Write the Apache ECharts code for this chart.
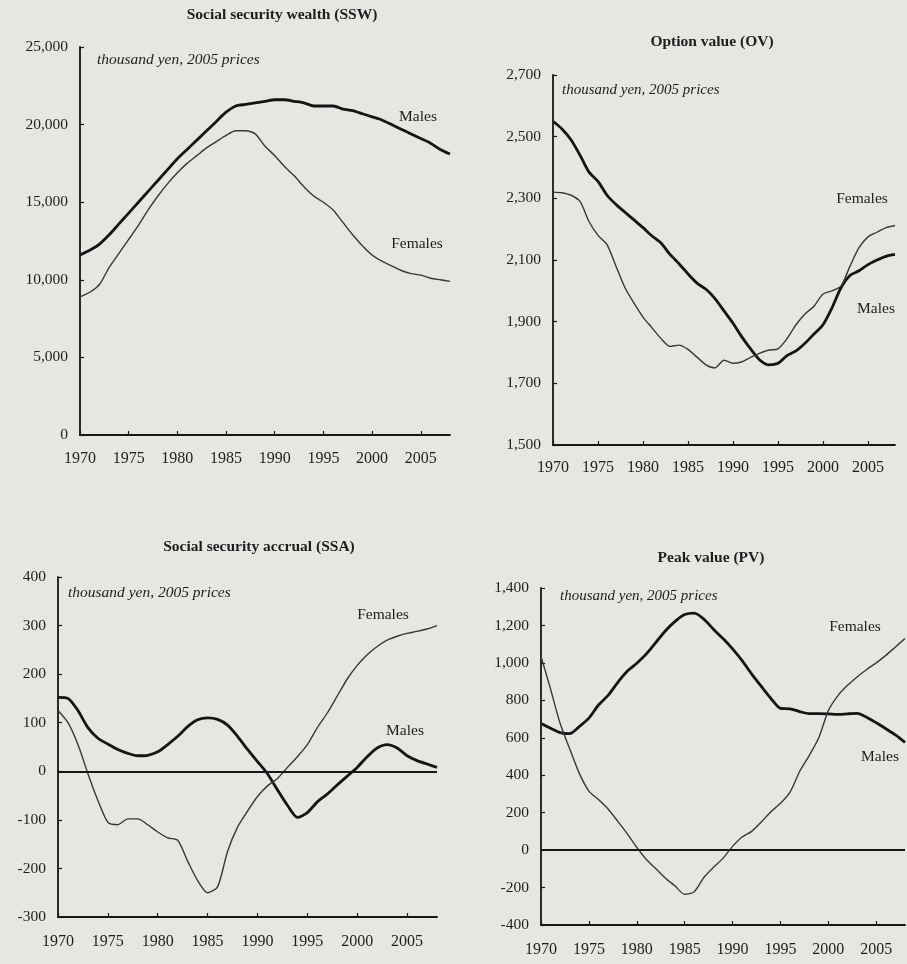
<!DOCTYPE html>
<html>
<head>
<meta charset="utf-8">
<script src="https://cdn.jsdelivr.net/npm/echarts@6/dist/echarts.min.js"></script>
<style>
  html, body { margin: 0; padding: 0; background: #e6e6e2; }
  #chart { width: 907px; height: 964px; }
</style>
</head>
<body>
<div id="chart"></div>
<script>
// Years covered by every panel
const years = [1970, 1971, 1972, 1973, 1974, 1975, 1976, 1977, 1978, 1979,
               1980, 1981, 1982, 1983, 1984, 1985, 1986, 1987, 1988, 1989,
               1990, 1991, 1992, 1993, 1994, 1995, 1996, 1997, 1998, 1999,
               2000, 2001, 2002, 2003, 2004, 2005, 2006, 2007, 2008];
const yearTicks = [1970, 1975, 1980, 1985, 1990, 1995, 2000, 2005];

// Social security wealth (thousand yen, 2005 prices)
const sswMales = [11600, 11900, 12300, 12900, 13600, 14300, 15000, 15700, 16400, 17100,
                  17800, 18400, 19000, 19600, 20200, 20800, 21200, 21300, 21400, 21500,
                  21600, 21600, 21500, 21400, 21200, 21200, 21200, 21000, 20900, 20700,
                  20500, 20300, 20000, 19700, 19400, 19100, 18800, 18400, 18100];
const sswFemales = [8900, 9200, 9700, 10800, 11700, 12600, 13500, 14500, 15400, 16200,
                    16900, 17500, 18000, 18500, 18900, 19300, 19600, 19600, 19400, 18600,
                    18000, 17300, 16700, 16000, 15400, 15000, 14500, 13700, 12900, 12200,
                    11600, 11200, 10900, 10600, 10400, 10300, 10100, 10000, 9900];

// Option value
const ovMales = [2550, 2525, 2490, 2440, 2385, 2355, 2310, 2280, 2255, 2230,
                 2205, 2178, 2155, 2118, 2088, 2055, 2025, 2005, 1975, 1935,
                 1895, 1850, 1810, 1775, 1760, 1765, 1790, 1805, 1830, 1860,
                 1890, 1945, 2010, 2050, 2065, 2085, 2100, 2112, 2118];
const ovFemales = [2320, 2318, 2310, 2290, 2225, 2180, 2150, 2080, 2010, 1960,
                   1915, 1880, 1845, 1820, 1824, 1810, 1785, 1760, 1750, 1775,
                   1765, 1770, 1785, 1798, 1808, 1812, 1845, 1890, 1925, 1950,
                   1990, 2000, 2015, 2080, 2140, 2175, 2190, 2205, 2212];

// Social security accrual
const ssaMales = [152, 150, 125, 90, 68, 56, 45, 37, 32, 33,
                  40, 55, 72, 92, 106, 110, 107, 95, 72, 45,
                  20, -5, -38, -70, -95, -85, -63, -47, -28, -10,
                  8, 30, 48, 55, 48, 32, 22, 15, 8];
const ssaFemales = [125, 100, 55, -5, -60, -105, -110, -98, -98, -110,
                    -125, -137, -142, -185, -225, -250, -238, -165, -115, -82,
                    -52, -30, -15, 8, 30, 55, 90, 120, 155, 190,
                    218, 240, 257, 270, 278, 284, 288, 293, 300];

// Peak value
const pvMales = [676, 651, 628, 622, 660, 705, 775, 826, 895, 955,
                 998, 1048, 1110, 1172, 1222, 1258, 1266, 1234, 1180, 1130,
                 1075, 1012, 940, 874, 810, 757, 755, 740, 729, 729,
                 728, 725, 728, 730, 710, 680, 648, 615, 575];
const pvFemales = [1035, 860, 676, 540, 410, 315, 270, 220, 155, 88,
                   15, -50, -100, -150, -192, -236, -222, -146, -92, -44,
                   20, 70, 100, 150, 205, 250, 310, 420, 505, 600,
                   745, 825, 880, 925, 965, 1000, 1040, 1085, 1130];

const FONT = '"Liberation Serif", "DejaVu Serif", serif';
const INK = '#161616';
const LABEL_INK = '#1e1e1e';

const pair = arr => years.map((y, i) => [y, arr[i]]);
const thousands = v => Number(v).toLocaleString('en-US');

const grids = [
  { left: 80,  top: 47,  width: 370, height: 388 },
  { left: 553, top: 75,  width: 342, height: 370 },
  { left: 58,  top: 577, width: 379, height: 340 },
  { left: 541, top: 588, width: 364, height: 337 }
];
const xLabelMargins = [16, 15, 17, 17];

const yRanges = [
  { min: 0,    max: 25000, interval: 5000 },
  { min: 1500, max: 2700,  interval: 200 },
  { min: -300, max: 400,   interval: 100 },
  { min: -400, max: 1400,  interval: 200 }
];

const xAxes = grids.map((g, i) => ({
  type: 'value', gridIndex: i, min: 1970, max: 2008,
  axisLine: { show: true, onZero: false, lineStyle: { color: INK, width: 1.8 } },
  axisTick: { show: true, inside: true, length: 4, customValues: yearTicks,
              lineStyle: { color: INK, width: 1.2 } },
  axisLabel: { customValues: yearTicks, formatter: v => String(v), margin: xLabelMargins[i],
               fontFamily: FONT, fontSize: 16, color: LABEL_INK },
  splitLine: { show: false }
}));

const yAxes = yRanges.map((r, i) => ({
  type: 'value', gridIndex: i, min: r.min, max: r.max, interval: r.interval,
  axisLine: { show: true, onZero: false, lineStyle: { color: INK, width: 1.8 } },
  axisTick: { show: true, inside: true, length: 4, lineStyle: { color: INK, width: 1.2 } },
  axisLabel: { formatter: thousands, margin: 12, fontFamily: FONT, fontSize: 15.5, color: LABEL_INK },
  splitLine: { show: false }
}));

function lineSeries(name, data, idx, thick, zeroLine) {
  const s = {
    name, type: 'line', xAxisIndex: idx, yAxisIndex: idx,
    data: pair(data), showSymbol: false, smooth: 0.25,
    lineStyle: { color: thick ? '#141414' : '#383838', width: thick ? 2.8 : 1.4 },
    silent: true, animation: false
  };
  if (zeroLine) {
    s.markLine = {
      silent: true, symbol: 'none', label: { show: false },
      lineStyle: { color: INK, width: 1.8, type: 'solid' },
      data: [{ yAxis: 0 }]
    };
  }
  return s;
}

const series = [
  lineSeries('Males', sswMales, 0, true),
  lineSeries('Females', sswFemales, 0, false),
  lineSeries('Males', ovMales, 1, true),
  lineSeries('Females', ovFemales, 1, false),
  lineSeries('Males', ssaMales, 2, true, true),
  lineSeries('Females', ssaFemales, 2, false),
  lineSeries('Males', pvMales, 3, true, true),
  lineSeries('Females', pvFemales, 3, false)
];

function txt(text, x, y, opts) {
  const o = Object.assign({ size: 15.5, weight: 'normal', style: 'normal', align: 'left' }, opts || {});
  return {
    type: 'text', x, y, silent: true,
    style: {
      text, fill: LABEL_INK,
      font: `${o.style} ${o.weight} ${o.size}px ${FONT}`,
      align: o.align, verticalAlign: 'middle',
      textAlign: o.align, textVerticalAlign: 'middle'
    }
  };
}

const graphics = [
  // panel titles
  txt('Social security wealth (SSW)', 282, 15, { weight: 'bold', align: 'center' }),
  txt('Option value (OV)', 712, 42, { weight: 'bold', align: 'center' }),
  txt('Social security accrual (SSA)', 259, 547, { weight: 'bold', align: 'center' }),
  txt('Peak value (PV)', 711, 558, { weight: 'bold', align: 'center' }),
  // unit notes
  txt('thousand yen, 2005 prices', 97, 60, { style: 'italic', size: 15.5 }),
  txt('thousand yen, 2005 prices', 562, 90, { style: 'italic', size: 15 }),
  txt('thousand yen, 2005 prices', 68, 593, { style: 'italic', size: 15.5 }),
  txt('thousand yen, 2005 prices', 560, 596, { style: 'italic', size: 15 }),
  // series names
  txt('Males', 418, 117, { align: 'center' }),
  txt('Females', 417, 244, { align: 'center' }),
  txt('Females', 862, 199, { align: 'center' }),
  txt('Males', 876, 309, { align: 'center' }),
  txt('Females', 383, 615, { align: 'center' }),
  txt('Males', 405, 731, { align: 'center' }),
  txt('Females', 855, 627, { align: 'center' }),
  txt('Males', 880, 757, { align: 'center' })
];

const chart = echarts.init(document.getElementById('chart'), null, { renderer: 'canvas' });
chart.setOption({
  backgroundColor: '#e6e6e2',
  animation: false,
  grid: grids.map(g => Object.assign({ containLabel: false }, g)),
  xAxis: xAxes,
  yAxis: yAxes,
  series,
  graphic: graphics
});
</script>
</body>
</html>
